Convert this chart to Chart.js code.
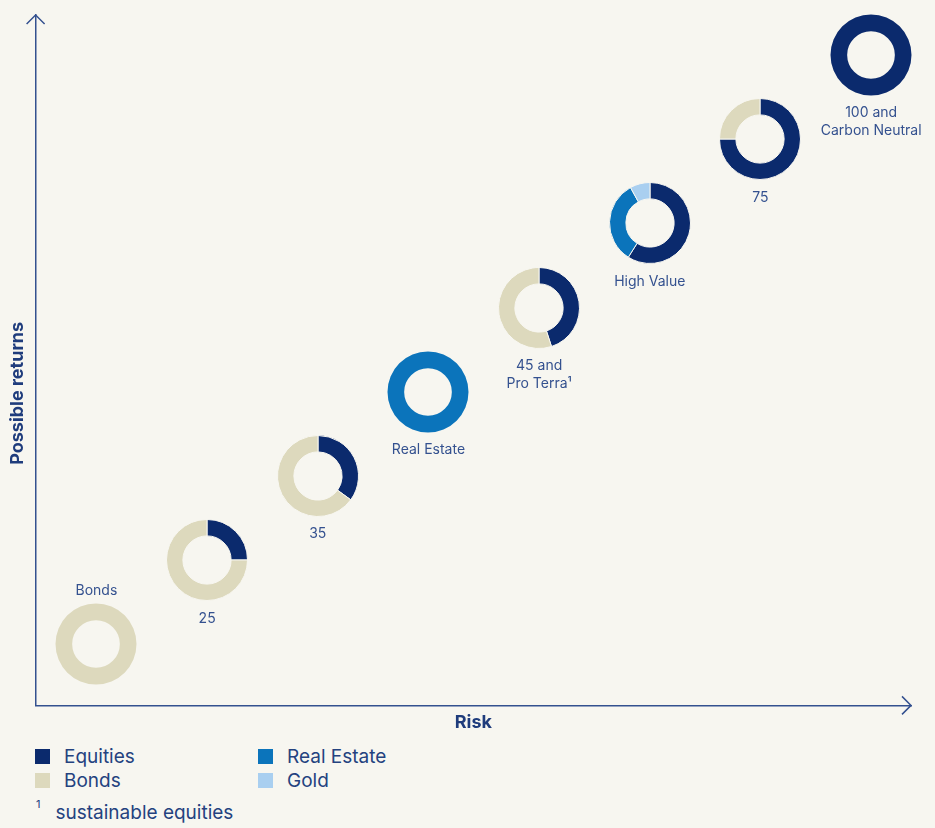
<!DOCTYPE html>
<html lang="en">
<head>
<meta charset="utf-8">
<script src="https://cdn.jsdelivr.net/npm/chart.js"></script>
<style>
  body { margin: 0; background: #f7f6f0; font-family: Inter, "Noto Sans", sans-serif; }
  #wrap { position: relative; width: 935px; height: 828px; overflow: hidden; }
  #main { position: absolute; left: 0; top: 0; }
  .donut { position: absolute; }
  .lbl { position: absolute; width: 160px; text-align: center; font-size: 14px; line-height: 18px; color: #34518f; }
  .key { position: absolute; height: 24px; line-height: 24px; font-size: 19px; color: #24427f; white-space: nowrap; }
  .key span { position: absolute; left: 0; top: 4px; width: 15px; height: 15px; }
  .key b { font-weight: normal; position: absolute; left: 29px; }
  .note { position: absolute; left: 36px; top: 796px; font-size: 19px; color: #24427f; line-height: 24px; white-space: nowrap; }
  .note sup { font-size: 11px; position: relative; top: -4px; margin-right: 15px; }
</style>
</head>
<body>
<div id="wrap">
  <canvas id="main" width="935" height="740"></canvas>
</div>

<script>
  // portfolios along the risk / return diagonal
  const portfolios = [['Bonds'], ['25'], ['35'], ['Real Estate'], ['45 and', 'Pro Terra¹'], ['High Value'], ['75'], ['100 and', 'Carbon Neutral']];
  const risk    = [1, 2, 3, 4, 5, 6, 7, 8];
  const returns = [1, 2, 3, 4, 5, 6, 7, 8];

  // allocation in % (clockwise from top)
  const equities   = [0, 25, 35, 0, 45, 59, 75, 100];
  const bonds      = [100, 75, 65, 0, 55, 0, 25, 0];
  const realEstate = [0, 0, 0, 100, 0, 33, 0, 0];
  const gold       = [0, 0, 0, 0, 0, 8, 0, 0];

  const seriesNames  = ['Equities', 'Bonds', 'Real Estate', 'Gold'];
  const seriesColors = ['#0b2a6d', '#ddd9bd', '#0b74bb', '#a9cff0'];
  const seriesData   = [equities, bonds, realEstate, gold];

  const BG = '#f7f6f0';
  const AXIS = '#34518f';
  const TITLE = '#1f3c7c';

  // arrow heads + y title (drawn a bit below the middle, like the original)
  const axisDeco = {
    id: 'axisDeco',
    afterDraw(chart) {
      const {ctx, chartArea: a} = chart;
      ctx.save();
      ctx.strokeStyle = AXIS;
      ctx.lineWidth = 1.5;
      ctx.beginPath();
      ctx.moveTo(a.left - 9, a.top + 9); ctx.lineTo(a.left, a.top); ctx.lineTo(a.left + 9, a.top + 9);
      ctx.moveTo(a.right - 9, a.bottom - 9); ctx.lineTo(a.right, a.bottom); ctx.lineTo(a.right - 9, a.bottom + 9);
      ctx.stroke();

      ctx.translate(a.left / 2, a.top + a.height * 0.548);
      ctx.rotate(-Math.PI / 2);
      ctx.fillStyle = TITLE;
      ctx.font = 'bold 18px Inter';
      ctx.textAlign = 'center';
      ctx.textBaseline = 'middle';
      ctx.fillText('Possible returns', 0, 0);
      ctx.restore();
    }
  };

  const main = new Chart(document.getElementById('main'), {
    type: 'scatter',
    data: {
      datasets: [{
        data: risk.map((r, i) => ({x: r, y: returns[i]})),
        pointRadius: 0
      }]
    },
    options: {
      responsive: false,
      animation: false,
      layout: { padding: { top: 15, right: 24, bottom: 2, left: 0 } },
      plugins: { legend: { display: false }, tooltip: { enabled: false } },
      scales: {
        x: {
          min: 0.45, max: 8.36,
          ticks: { display: false },
          grid: { display: false, drawTicks: false },
          border: { color: AXIS, width: 1.5 },
          title: { display: true, text: 'Risk', color: TITLE, font: { family: 'Inter', size: 18, weight: 'bold' }, padding: { top: 6, bottom: 5 } }
        },
        y: {
          min: 0.275, max: 8.475,
          ticks: { display: false },
          grid: { display: false, drawTicks: false },
          border: { color: AXIS, width: 1.5 },
          // space reserved here, text drawn by axisDeco
          title: { display: true, text: 'Possible returns', color: 'rgba(0,0,0,0)', font: { family: 'Inter', size: 18, weight: 'bold' }, padding: { top: 7, bottom: 7 } }
        }
      }
    },
    plugins: [axisDeco]
  });

  const wrap = document.getElementById('wrap');
  const pts = main.getDatasetMeta(0).data;
  const SIZE = 90;

  portfolios.forEach((name, i) => {
    const cx = pts[i].x, cy = pts[i].y;
    const cv = document.createElement('canvas');
    cv.className = 'donut';
    cv.width = SIZE; cv.height = SIZE;
    cv.style.left = (cx - SIZE / 2) + 'px';
    cv.style.top = (cy - SIZE / 2) + 'px';
    wrap.appendChild(cv);

    const vals = [], cols = [], labs = [];
    seriesData.forEach((s, k) => {
      if (s[i] > 0) { vals.push(s[i]); cols.push(seriesColors[k]); labs.push(seriesNames[k]); }
    });

    new Chart(cv, {
      type: 'doughnut',
      data: { labels: labs, datasets: [{ data: vals, backgroundColor: cols, borderColor: BG, borderWidth: vals.length > 1 ? 1 : 0, radius: 40.5, cutout: 26.5 }] },
      options: {
        responsive: false,
        animation: false,
        plugins: { legend: { display: false }, tooltip: { enabled: false } }
      }
    });

    const lbl = document.createElement('div');
    lbl.className = 'lbl';
    lbl.innerHTML = name.join('<br>');
    lbl.style.left = (cx - 80) + 'px';
    lbl.style.top = (i === 0 ? cy - 63.5 : cy + 48.5) + 'px';
    wrap.appendChild(lbl);
  });

  // legend
  seriesNames.forEach((n, k) => {
    const d = document.createElement('div');
    d.className = 'key';
    d.style.left = (k < 2 ? 35 : 258) + 'px';
    d.style.top = (745 + (k % 2) * 24) + 'px';
    d.innerHTML = '<span style="background:' + seriesColors[k] + '"></span><b>' + n + '</b>';
    wrap.appendChild(d);
  });

  const note = document.createElement('div');
  note.className = 'note';
  note.innerHTML = '<sup>1</sup>sustainable equities';
  wrap.appendChild(note);
</script>
</body>
</html>
